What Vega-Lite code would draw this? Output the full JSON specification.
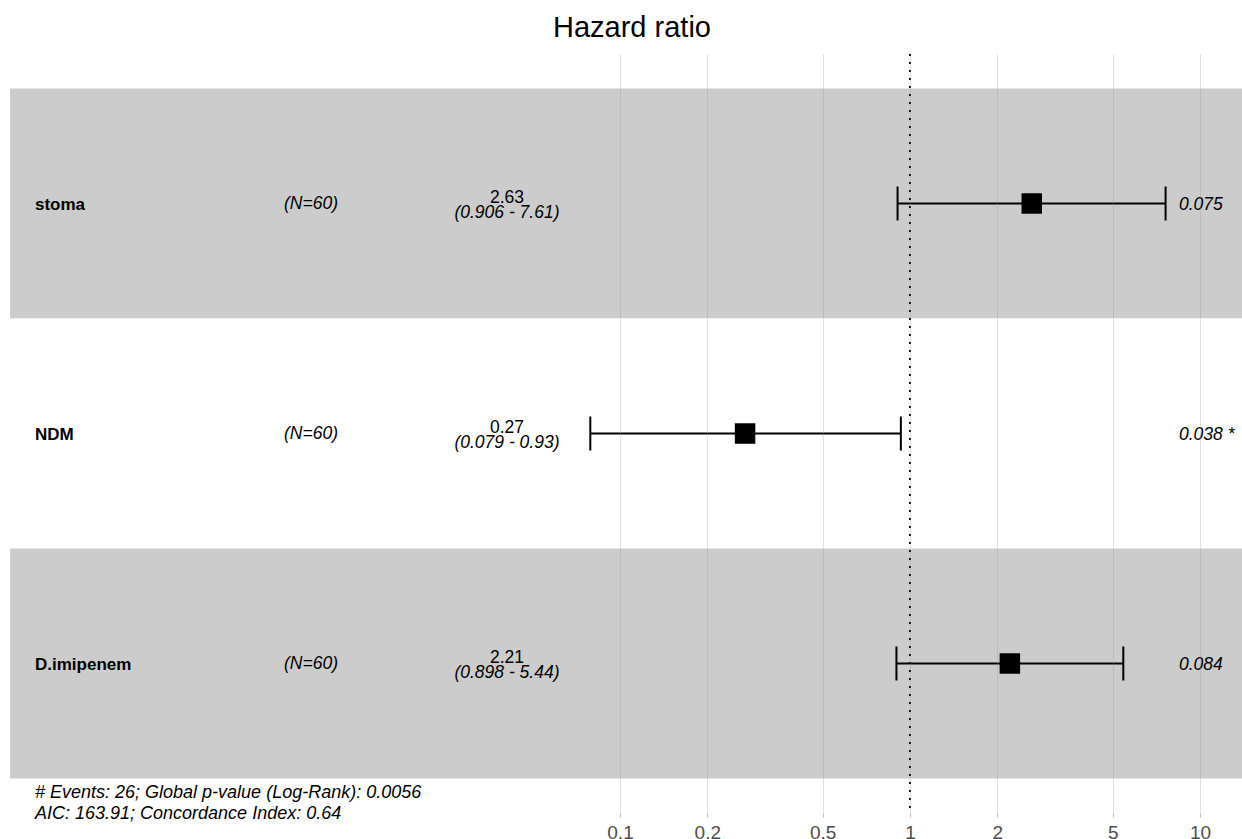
{
  "$schema": "https://vega.github.io/schema/vega-lite/v6.json",
  "width": 1232,
  "height": 759,
  "autosize": {"type": "none"},
  "padding": {"left": 10, "top": 54, "right": 0, "bottom": 26},
  "background": "white",
  "title": {"text": "Hazard ratio", "fontSize": 29, "font": "Liberation Sans", "fontWeight": "normal", "color": "black", "anchor": "middle", "baseline": "alphabetic", "offset": -13, "dx": 6},
  "config": {"view": {"stroke": null}, "font": "Liberation Sans"},
  "data": {"values": [
    {"var": "stoma", "n": "(N=60)", "hr": 2.63, "lo": 0.906, "hi": 7.61, "est": "2.63", "ci": "(0.906 - 7.61)", "p": "0.075"},
    {"var": "NDM", "n": "(N=60)", "hr": 0.27, "lo": 0.079, "hi": 0.93, "est": "0.27", "ci": "(0.079 - 0.93)", "p": "0.038 *"},
    {"var": "D.imipenem", "n": "(N=60)", "hr": 2.21, "lo": 0.898, "hi": 5.44, "est": "2.21", "ci": "(0.898 - 5.44)", "p": "0.084"}
  ]},
  "layer": [
    {
      "mark": {"type": "rect"},
      "encoding": {
        "y": {"field": "var", "type": "nominal", "sort": ["stoma", "NDM", "D.imipenem"], "scale": {"paddingInner": 0, "paddingOuter": 0.15}, "axis": null},
        "x": {"value": 0},
        "x2": {"value": "width"},
        "fill": {"field": "var", "type": "nominal", "scale": {"domain": ["stoma", "NDM", "D.imipenem"], "range": ["#cccccc", "#ffffff", "#cccccc"]}, "legend": null}
      }
    },
    {
      "mark": {"type": "rule", "color": "black", "strokeWidth": 2},
      "encoding": {
        "y": {"field": "var", "type": "nominal", "sort": ["stoma", "NDM", "D.imipenem"]},
        "x": {"field": "lo", "type": "quantitative",
          "scale": {"type": "log", "domain": [0.000788, 13.96], "nice": false},
          "axis": {"orient": "bottom", "values": [0.1, 0.2, 0.5, 1, 2, 5, 10], "format": "~g", "grid": true, "gridColor": "#999999", "gridOpacity": 0.3, "gridWidth": 1, "domain": false, "ticks": true, "tickColor": "#bbbbbb", "tickSize": 4, "labelFontSize": 19, "labelColor": "#4d4d4d", "labelFont": "Liberation Sans", "labelPadding": 6, "title": null, "zindex": 1, "labelFlush": false, "labelOverlap": false}},
        "x2": {"field": "hi"}
      }
    },
    {
      "mark": {"type": "tick", "color": "black", "opacity": 1, "thickness": 2, "size": 34, "orient": "vertical"},
      "encoding": {
        "y": {"field": "var", "type": "nominal", "sort": ["stoma", "NDM", "D.imipenem"]},
        "x": {"field": "lo", "type": "quantitative"}
      }
    },
    {
      "mark": {"type": "tick", "color": "black", "opacity": 1, "thickness": 2, "size": 34, "orient": "vertical"},
      "encoding": {
        "y": {"field": "var", "type": "nominal", "sort": ["stoma", "NDM", "D.imipenem"]},
        "x": {"field": "hi", "type": "quantitative"}
      }
    },
    {
      "mark": {"type": "point", "shape": "square", "filled": true, "color": "black", "opacity": 1, "size": 420},
      "encoding": {
        "y": {"field": "var", "type": "nominal", "sort": ["stoma", "NDM", "D.imipenem"]},
        "x": {"field": "hr", "type": "quantitative"}
      }
    },
    {
      "data": {"values": [{}]},
      "mark": {"type": "rule", "color": "black", "strokeWidth": 2, "strokeDash": [2, 6]},
      "encoding": {"x": {"datum": 1, "type": "quantitative"}}
    },
    {
      "mark": {"type": "text", "align": "left", "baseline": "alphabetic", "fontWeight": "bold", "fontSize": 17, "dy": 6, "color": "black"},
      "encoding": {
        "y": {"field": "var", "type": "nominal", "sort": ["stoma", "NDM", "D.imipenem"]},
        "x": {"datum": 0.000961, "type": "quantitative"},
        "text": {"field": "var"}
      }
    },
    {
      "mark": {"type": "text", "align": "center", "baseline": "alphabetic", "fontStyle": "italic", "fontSize": 17.5, "dy": 5, "color": "black"},
      "encoding": {
        "y": {"field": "var", "type": "nominal", "sort": ["stoma", "NDM", "D.imipenem"]},
        "x": {"datum": 0.0086, "type": "quantitative"},
        "text": {"field": "n"}
      }
    },
    {
      "mark": {"type": "text", "align": "center", "baseline": "alphabetic", "fontSize": 17.5, "dy": -1, "color": "black"},
      "encoding": {
        "y": {"field": "var", "type": "nominal", "sort": ["stoma", "NDM", "D.imipenem"]},
        "x": {"datum": 0.04076, "type": "quantitative"},
        "text": {"field": "est"}
      }
    },
    {
      "mark": {"type": "text", "align": "center", "baseline": "alphabetic", "fontStyle": "italic", "fontSize": 17.5, "dy": 14, "color": "black"},
      "encoding": {
        "y": {"field": "var", "type": "nominal", "sort": ["stoma", "NDM", "D.imipenem"]},
        "x": {"datum": 0.04076, "type": "quantitative"},
        "text": {"field": "ci"}
      }
    },
    {
      "mark": {"type": "text", "align": "left", "baseline": "alphabetic", "fontStyle": "italic", "fontSize": 17.5, "dy": 6, "color": "black"},
      "encoding": {
        "y": {"field": "var", "type": "nominal", "sort": ["stoma", "NDM", "D.imipenem"]},
        "x": {"datum": 8.466, "type": "quantitative"},
        "text": {"field": "p"}
      }
    },
    {
      "data": {"values": [{}]},
      "mark": {"type": "text", "align": "left", "baseline": "alphabetic", "fontStyle": "italic", "fontSize": 18, "lineHeight": 21, "dy": 134, "color": "black"},
      "encoding": {
        "y": {"datum": "D.imipenem", "type": "nominal"},
        "x": {"datum": 0.000961, "type": "quantitative"},
        "text": {"value": ["# Events: 26; Global p-value (Log-Rank): 0.0056", "AIC: 163.91; Concordance Index: 0.64"]}
      }
    }
  ]
}
